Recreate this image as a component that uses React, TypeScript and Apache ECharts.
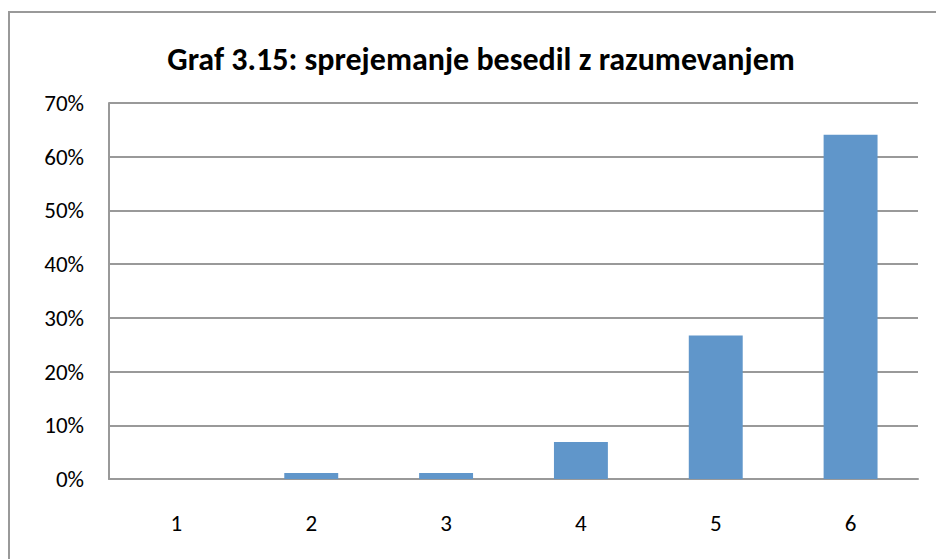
import React, { useEffect, useRef } from "react";
import * as echarts from "echarts";

const title = "Graf 3.15: sprejemanje besedil z razumevanjem";
const categories = ["1", "2", "3", "4", "5", "6"];
const values = [0, 1.1, 1.1, 6.9, 26.7, 64.1];
const yTicks = { min: 0, max: 70, interval: 10 };

const FONT = "Carlito, Lato, sans-serif";

export default function App() {
  const ref = useRef<HTMLDivElement>(null);
  useEffect(() => {
    if (!ref.current) return;
    const chart = echarts.init(ref.current, null, { renderer: "svg" });
    chart.setOption({
      animation: false,
      backgroundColor: "#ffffff",
      title: {
        text: title,
        left: 476,
        top: 38,
        textAlign: "center",
        textStyle: { fontFamily: FONT, fontWeight: "bold", fontSize: 32, color: "#000" },
      },
      graphic: [
        {
          type: "rect",
          shape: { x: 9, y: 12, width: 960, height: 600 },
          style: { fill: "none", stroke: "#999999", lineWidth: 2 },
          silent: true,
        },
      ],
      grid: { left: 109, right: 18, top: 103, bottom: 80, containLabel: false },
      xAxis: {
        type: "category",
        data: categories,
        axisLine: { lineStyle: { color: "#999999", width: 2 } },
        axisTick: { show: false },
        axisLabel: { fontFamily: FONT, fontSize: 23, color: "#000", margin: 32 },
      },
      yAxis: {
        type: "value",
        min: yTicks.min,
        max: yTicks.max,
        interval: yTicks.interval,
        axisLine: { show: true, lineStyle: { color: "#999999", width: 2 } },
        axisTick: { show: false },
        splitLine: { lineStyle: { color: "#999999", width: 2 } },
        axisLabel: {
          fontFamily: FONT,
          fontSize: 23,
          color: "#000",
          margin: 25,
          formatter: (v: number) => `${v}%`,
        },
      },
      series: [
        {
          type: "bar",
          data: values,
          barWidth: "40%",
          itemStyle: { color: "#6096CA" },
        },
      ],
    });
    return () => chart.dispose();
  }, []);
  return (
    <div
      ref={ref}
      style={{ position: "fixed", left: 0, top: 0, width: 936, height: 559 }}
    />
  );
}
